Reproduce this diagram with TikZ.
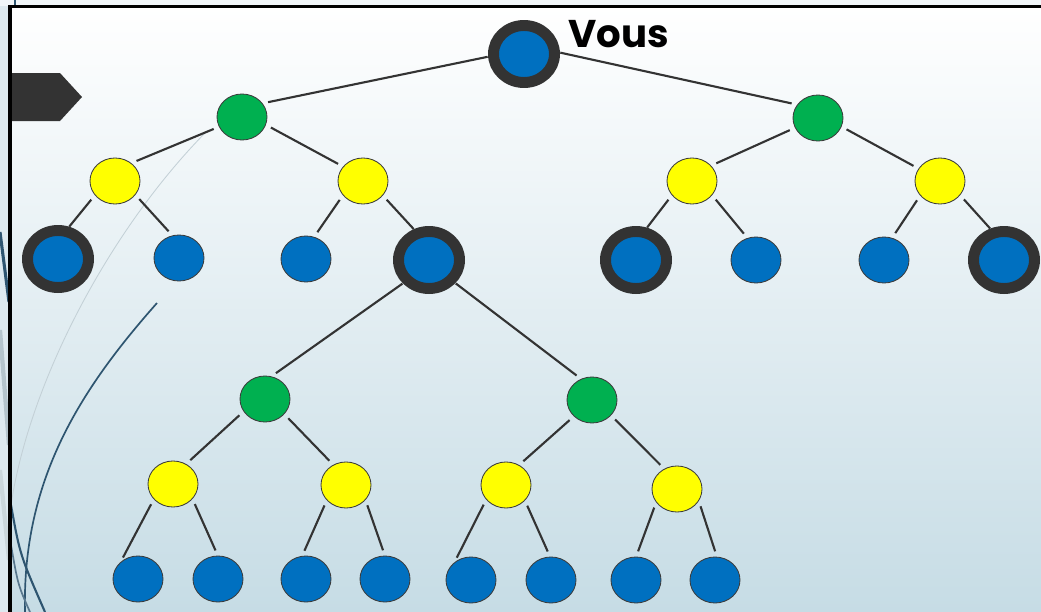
\documentclass[tikz,border=0pt]{standalone}
\usepackage{fontspec}
\usepackage{tikz}
\usetikzlibrary{shapes.geometric}
\newfontfamily\vousfont{Poppins}
\definecolor{ringgrey}{HTML}{333333}
\definecolor{nodeblue}{HTML}{0070C0}
\definecolor{nodegreen}{HTML}{00B050}
\definecolor{nodeyellow}{HTML}{FFFF00}
\definecolor{outl}{HTML}{3C3C3C}
\definecolor{bgbot}{HTML}{C6DCE5}
\definecolor{bgside}{HTML}{DDE9EF}
\definecolor{deco}{HTML}{2E5570}
\definecolor{decogrey}{HTML}{B4C4CC}
\tikzset{
  basic/.style   = {ellipse, draw=outl, line width=0.6pt, inner sep=0pt, outer sep=0pt,
                    minimum width=1.25cm, minimum height=1.15cm},
  level 1/.style = {basic, fill=nodegreen},
  level 2/.style = {basic, fill=nodeyellow},
  level 3/.style = {basic, fill=nodeblue},
  marked/.style  = {basic, fill=nodeblue, draw=ringgrey, line width=7.8pt,
                    minimum width=1.525cm, minimum height=1.425cm},
  edge/.style    = {draw=ringgrey, line width=1.5pt, shorten <=4.3pt, shorten >=4.3pt}
}

\begin{document}
\begin{tikzpicture}[x=0.025cm, y=-0.025cm]
  \useasboundingbox (0,0) rectangle (1041,612);
  % backdrop
  \fill[bgside] (0,0) rectangle (1041,612);
  \fill[white!60!bgside] (0,0) rectangle (1041,6);
  \shade[top color=white, bottom color=bgbot] (10,6) rectangle (1041,612);
  \draw[deco, line width=2.2pt] (0,232) -- (9,302);
  \draw[decogrey, line width=3pt] (0,330) -- (9,445);
  \draw[decogrey!70, line width=3pt] (0,470) -- (9,560);
  \draw[deco, line width=1.4pt] (15,0) -- (15,5);
  \draw[decogrey!80, line width=0.6pt] (205,133) .. controls (110,230) and (30,380) .. (11,505);
  \draw[deco, line width=1.2pt] (157,303) .. controls (80,390) and (22,480) .. (25,612);
  \draw[deco, line width=1.5pt] (11,505) .. controls (20,555) .. (45,612);
  \draw[deco!80, line width=1.2pt] (11,545) .. controls (18,585) .. (30,612);
  \fill[ringgrey] (11,73) -- (60,73) -- (82,97) -- (60,121) -- (11,121) -- cycle;
  \draw[black, line width=2.4pt] (10,612) -- (10,6.5) -- (1041,6.5);

  % tree
  \node[marked]  (R)   at (524,54)  {};
  \node[anchor=base west, inner sep=0pt] (vous) at (568,47)
       {\vousfont\bfseries\fontsize{27.5}{33}\selectfont Vous};
  \node[level 1] (G1)  at (242,117) {};
  \node[level 1] (G2)  at (818,118) {};
  \node[level 2] (Y1)  at (115,181) {};
  \node[level 2] (Y2)  at (363,181) {};
  \node[level 2] (Y3)  at (692,181) {};
  \node[level 2] (Y4)  at (940,181) {};
  \node[marked]  (B1)  at (58,259)  {};
  \node[level 3] (B2)  at (179,258) {};
  \node[level 3] (B3)  at (306,259) {};
  \node[marked]  (B4)  at (429,260) {};
  \node[marked]  (B5)  at (636,260) {};
  \node[level 3] (B6)  at (756,260) {};
  \node[level 3] (B7)  at (884,260) {};
  \node[marked]  (B8)  at (1004,260) {};
  \node[level 1] (G3)  at (265,399) {};
  \node[level 1] (G4)  at (592,400) {};
  \node[level 2] (Y5)  at (173,484) {};
  \node[level 2] (Y6)  at (346,485) {};
  \node[level 2] (Y7)  at (506,485) {};
  \node[level 2] (Y8)  at (677,489) {};
  \node[level 3] (B9)  at (138,579) {};
  \node[level 3] (B10) at (218,579) {};
  \node[level 3] (B11) at (306,579) {};
  \node[level 3] (B12) at (385,579) {};
  \node[level 3] (B13) at (471,580) {};
  \node[level 3] (B14) at (551,580) {};
  \node[level 3] (B15) at (636,580) {};
  \node[level 3] (B16) at (715,580) {};

  \draw[edge] (R.183)  -- (G1.34);
  \draw[edge] (R.5)    -- (G2.147);
  \draw[edge] (G1.203) -- (Y1.48);
  \draw[edge] (G1.342) -- (Y2.144);
  \draw[edge] (G2.203) -- (Y3.39);
  \draw[edge] (G2.340) -- (Y4.150);
  \draw[edge] (Y1.215) -- (B1.75);
  \draw[edge] (Y1.326) -- (B2.106);
  \draw[edge] (Y2.215) -- (B3.70);
  \draw[edge] (Y2.324) -- (B4.113);
  \draw[edge] (Y3.215) -- (B5.75);
  \draw[edge] (Y3.325) -- (B6.111);
  \draw[edge] (Y4.216) -- (B7.70);
  \draw[edge] (Y4.325) -- (B8.110);
  \draw[edge] (B4.223) -- (G3.75);
  \draw[edge] (B4.318) -- (G4.117);
  \draw[edge] (G3.210) -- (Y5.57);
  \draw[edge] (G3.322) -- (Y6.122);
  \draw[edge] (G4.222) -- (Y7.57);
  \draw[edge] (G4.321) -- (Y8.122);
  \draw[edge] (Y5.218) -- (B9.138);
  \draw[edge] (Y5.323) -- (B10.90);
  \draw[edge] (Y6.218) -- (B11.100);
  \draw[edge] (Y6.323) -- (B12.90);
  \draw[edge] (Y7.216) -- (B13.135);
  \draw[edge] (Y7.321) -- (B14.92);
  \draw[edge] (Y8.212) -- (B15.90);
  \draw[edge] (Y8.332) -- (B16.85);
\end{tikzpicture}
\end{document}
